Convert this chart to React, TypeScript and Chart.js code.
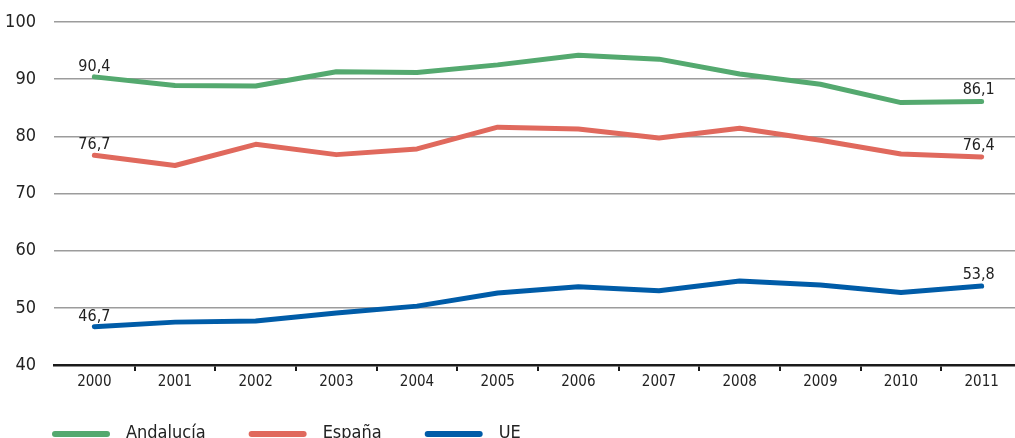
import { useEffect, useRef } from "react";
import { Chart, registerables } from "chart.js";

Chart.register(...registerables);

const years = ["2000", "2001", "2002", "2003", "2004", "2005", "2006", "2007", "2008", "2009", "2010", "2011"];
const andalucia = [90.4, 88.9, 88.8, 91.3, 91.15, 92.5, 94.2, 93.5, 90.9, 89.1, 85.9, 86.1];
const espana = [76.7, 74.9, 78.6, 76.8, 77.8, 81.6, 81.3, 79.7, 81.4, 79.3, 76.9, 76.4];
const ue = [46.7, 47.5, 47.7, 49.1, 50.3, 52.6, 53.7, 53.0, 54.7, 54.0, 52.7, 53.8];
const seriesNames = ["Andalucía", "España", "UE"];
const labelTexts = [
  ["90,4", "86,1"],
  ["76,7", "76,4"],
  ["46,7", "53,8"],
];
const yMin = 40;
const yMax = 100;
const yStep = 10;

const COLORS = ["#54a96f", "#e0695d", "#005ca8"];
const FONT = '"DejaVu Sans Condensed", "Liberation Sans Narrow", "Liberation Sans", sans-serif';
const TEXT = "#222222";

const endLabels = {
  id: "endLabels",
  afterDatasetsDraw(chart: any) {
    const ctx = chart.ctx;
    ctx.save();
    ctx.font = `16px ${FONT}`;
    ctx.fillStyle = TEXT;
    ctx.textAlign = "center";
    ctx.textBaseline = "alphabetic";
    chart.data.datasets.forEach((ds: any, i: number) => {
      const meta = chart.getDatasetMeta(i);
      const pts = meta.data;
      const first = pts[0];
      const last = pts[pts.length - 1];
      ctx.fillText(labelTexts[i][0], first.x, first.y - 6);
      ctx.fillText(labelTexts[i][1], last.x - 3, last.y - 7);
    });
    ctx.restore();
  },
};

const customLegend = {
  id: "customLegend",
  afterDraw(chart: any) {
    const ctx = chart.ctx;
    ctx.save();
    ctx.font = `18px ${FONT}`;
    ctx.textBaseline = "alphabetic";
    ctx.textAlign = "left";
    let x = 55;
    const lineY = 434;
    chart.data.datasets.forEach((ds: any) => {
      ctx.strokeStyle = ds.borderColor;
      ctx.lineWidth = 6;
      ctx.lineCap = "round";
      ctx.beginPath();
      ctx.moveTo(x, lineY);
      ctx.lineTo(x + 52, lineY);
      ctx.stroke();
      const tx = x + 52 + 19;
      ctx.fillStyle = TEXT;
      ctx.fillText(ds.label, tx, 438);
      const w = ctx.measureText(ds.label).width;
      x = tx + w + 46;
    });
    ctx.restore();
  },
};

export default function App() {
  const ref = useRef<HTMLCanvasElement>(null);
  useEffect(() => {
    if (!ref.current) return;
    const series = [andalucia, espana, ue];
    const chart = new Chart(ref.current, {
      type: "line",
      data: {
        labels: years,
        datasets: series.map((d, i) => ({
          label: seriesNames[i],
          data: d,
          borderColor: COLORS[i],
          backgroundColor: COLORS[i],
          borderWidth: 5,
          pointRadius: 0,
          tension: 0,
          borderCapStyle: "round",
          borderJoinStyle: "round",
          fill: false,
        })),
      },
      options: {
        animation: false,
        responsive: false,
        layout: { padding: { top: 22, left: 0, right: 0, bottom: 0 } },
        plugins: { legend: { display: false }, tooltip: { enabled: false } },
        scales: {
          x: {
            type: "category",
            offset: true,
            grid: {
              offset: true,
              drawOnChartArea: false,
              drawTicks: true,
              tickLength: 6,
              lineWidth: 2,
              color: (c: any) => (c.index === 0 ? "rgba(0,0,0,0)" : "#1a1a1a"),
            },
            border: { display: true, color: "#1a1a1a", width: 2.5 },
            ticks: {
              font: { family: FONT, size: 15 },
              color: TEXT,
              padding: 2,
              maxRotation: 0,
              autoSkip: false,
            },
            afterFit: (s: any) => {
              s.height = 73;
            },
          },
          y: {
            min: yMin,
            max: yMax,
            grid: { color: "#9c9c9c", lineWidth: 1.5, drawTicks: false },
            border: { display: false },
            ticks: {
              stepSize: yStep,
              font: { family: FONT, size: 18 },
              color: TEXT,
              padding: 18,
            },
            afterFit: (s: any) => {
              s.width = 54;
              s.paddingTop = 0;
              s.paddingBottom = 0;
            },
          },
        },
      },
      plugins: [endLabels, customLegend],
    });
    return () => chart.destroy();
  }, []);
  return (
    <div style={{ position: "absolute", left: 0, top: 0, width: 1015, height: 438, overflow: "hidden", background: "#fff" }}>
      <canvas ref={ref} width={1022} height={438} style={{ display: "block" }} />
    </div>
  );
}
